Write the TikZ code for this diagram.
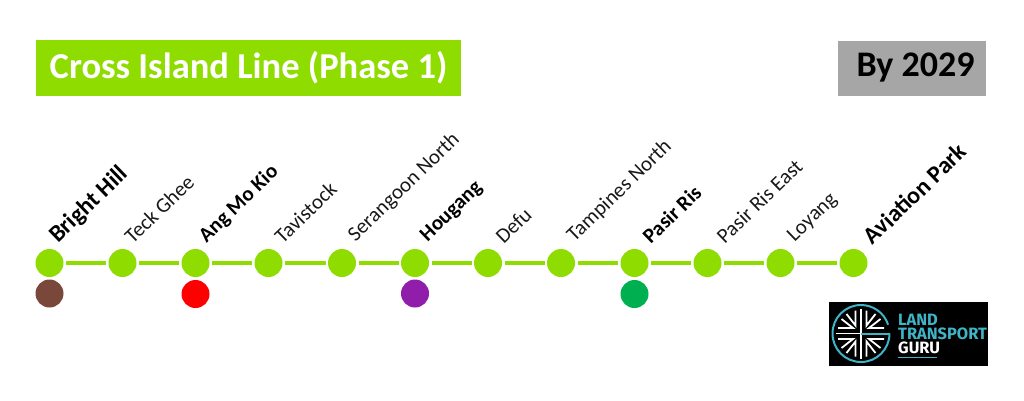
\documentclass[tikz,border=0pt]{standalone}
\usepackage{fontspec}
\setmainfont{Carlito}
\newfontfamily\logofont{Fira Sans}
\definecolor{linegreen}{HTML}{8FDC00}
\definecolor{logocyan}{HTML}{3FB4C6}
\tikzset{
  st/.style={circle,fill=linegreen,minimum size=28pt,inner sep=0pt,outer sep=2.5pt},
  ic/.style={circle,minimum size=28pt,inner sep=0pt},
  conn/.style={draw=linegreen,line width=3.2pt},
  lab/.style={rotate=44,anchor=south west,inner sep=0pt,font=\fontsize{21}{21}\selectfont,text=black!90},
  blab/.style={lab,font=\fontsize{21}{21}\selectfont\bfseries,text=black},
  blabb/.style={lab,font=\fontsize{24}{24}\selectfont\bfseries,text=black},
  spoke/.style={draw=white,line width=1.8pt},
  logotext/.style={anchor=west,inner sep=0pt,font=\logofont\fontsize{16.4}{16.4}\selectfont\bfseries},
}
\begin{document}
\begin{tikzpicture}[x=1pt,y=-1pt]
\useasboundingbox (0,0) rectangle (1024,400);
\node[fill=linegreen,text=white,minimum width=425pt,minimum height=56pt,inner sep=0pt,font=\fontsize{36.5}{37}\selectfont\bfseries] (title) at (248.5,68) {Cross Island Line (Phase 1)};
\node[fill=black!35,text=black,minimum width=148pt,minimum height=55pt,inner sep=0pt] (year) at (912,68) {};
\node[inner sep=0pt,font=\fontsize{36}{36}\selectfont\bfseries] (yeartext) at (915.5,68) {By 2029};
\foreach \n/\x in {1/49.5,2/122.5,3/195.5,4/268.5,5/342,6/415,7/488,8/561,9/634.5,10/707.5,11/780.5,12/853.5}
  \node[st] (s\n) at (\x,263) {};
\foreach \a/\b in {1/2,2/3,3/4,4/5,5/6,6/7,7/8,8/9,9/10,10/11,11/12}
  \draw[conn] (s\a) -- (s\b);
\node[ic,fill={rgb,255:red,121;green,72;blue,58}] (i1) at (49.5,293.5) {};
\node[ic,fill=red] (i3) at (195.5,294) {};
\node[ic,fill={rgb,255:red,145;green,30;blue,170}] (i6) at (415,293.5) {};
\node[ic,fill={rgb,255:red,0;green,176;blue,80}] (i9) at (634.5,294) {};
\node[blabb] (l1) at (61,247) {Bright Hill};
\node[lab] (l2) at (133,245) {Teck Ghee};
\node[blab] (l3) at (209,246) {Ang Mo Kio};
\node[lab] (l4) at (283,245) {Tavistock};
\node[lab] (l5) at (358,245) {Serangoon North};
\node[blab] (l6) at (430,245) {Hougang};
\node[lab] (l7) at (504,245) {Defu};
\node[lab] (l8) at (577,245) {Tampines North};
\node[blab] (l9) at (651,245) {Pasir Ris};
\node[lab] (l10) at (725,245) {Pasir Ris East};
\node[lab] (l11) at (797,245) {Loyang};
\node[blabb] (l12) at (873,246) {Aviation Park};
% logo
\fill[black] (829,302) rectangle (987.5,365.5);
\begin{scope}[shift={(861,333.5)}]
  \draw[logocyan,line width=2pt] (0:28.5) ++(0,0) arc[start angle=0,end angle=342,radius=28.5];
  \draw[spoke] (-25,0) -- (-1,0);
  \draw[spoke] (0,-25) -- (0,25);
  \draw[logocyan,line width=2pt] (0,0) -- (28.5,0);
  \foreach \sx/\sy in {1/1,1/-1,-1/1,-1/-1}{
    \begin{scope}[xscale=\sx,yscale=\sy]
      \draw[spoke] (5.5,-23) -- (5.5,-8) -- (14.5,-19.5);
      \draw[spoke] (19.5,-14.5) -- (8,-5.5) -- (23,-5.5);
    \end{scope}
  }
\end{scope}
\node[logotext,text=logocyan] (lg1) at (898,319.5) {LAND};
\node[logotext,text=logocyan] (lg2) at (898,334) {TRANSPORT};
\node[logotext,text=white] (lg3) at (898,348) {GURU};
\draw[logocyan,line width=0.8pt] (898,357) -- (937,357);
\end{tikzpicture}
\end{document}
